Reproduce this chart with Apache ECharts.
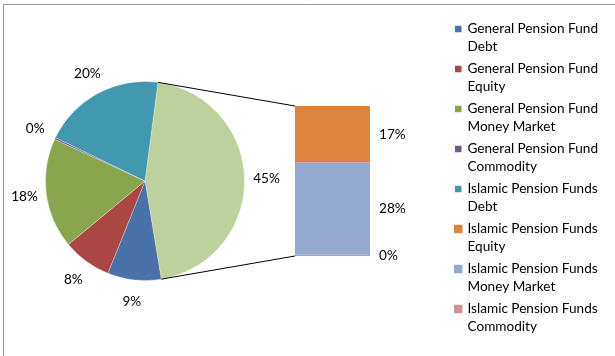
<!DOCTYPE html>
<html>
<head>
<meta charset="utf-8">
<script src="https://cdn.jsdelivr.net/npm/echarts@6/dist/echarts.min.js"></script>
<style>
html,body{margin:0;padding:0;background:#fff;}
#c{width:615px;height:356px;}
</style>
</head>
<body>
<div id="c"></div>
<script>
// ---- data (percent of total) ----
const pieNames = [
  'General Pension Fund Debt',
  'General Pension Fund Equity',
  'General Pension Fund Money Market',
  'General Pension Fund Commodity',
  'Islamic Pension Funds Debt'
];
const pieValues = [8.7, 7.9, 17.9, 0.3, 19.9];
const barNames = [
  'Islamic Pension Funds Equity',
  'Islamic Pension Funds Money Market',
  'Islamic Pension Funds Commodity'
];
const barValues = [17.0, 27.9, 0.4];
const otherName = 'Other';

const pieColors = ['#4A72A8', '#AA4643', '#89A54E', '#71588F', '#4198AF'];
const otherColor = '#BCD19B';
const barColors = ['#DB843D', '#93A9CF', '#D19392'];

const FONT = 'Lato';
const FS = 13.6;
const otherValue = barValues.reduce((a, b) => a + b, 0);
const total = otherValue + pieValues.reduce((a, b) => a + b, 0);

const CX = 145, CY = 181, R = 99.5;
const START = 7.5; // degrees clockwise from 12 o'clock
const LABEL_R = R + 22;

const pieData = [{ name: otherName, value: otherValue, itemStyle: { color: otherColor } }]
  .concat(pieNames.map((n, i) => ({ name: n, value: pieValues[i], itemStyle: { color: pieColors[i] } })));

// mid angles for labels
const midAngles = [];
let acc = START;
pieData.forEach(d => {
  const span = d.value / total * 360;
  midAngles.push(acc + span / 2);
  acc += span;
});

const chart = echarts.init(document.getElementById('c'), null, { renderer: 'canvas' });

// bar series: stacked bottom-to-top: Commodity, Money Market, Equity
const barOrder = [2, 1, 0];
const barSeries = barOrder.map(i => ({
  name: barNames[i],
  type: 'bar',
  stack: 'other',
  barWidth: '100%',
  data: [barValues[i]],
  itemStyle: { color: barColors[i] },
  label: {
    show: true, position: 'right', distance: 9,
    color: '#000', fontFamily: FONT, fontSize: FS,
    formatter: p => Math.round(p.value / total * 100) + '%'
  },
  emphasis: { disabled: true },
  silent: true
}));

const legendNames = pieNames.concat(barNames);

const option = {
  animation: false,
  textStyle: { fontFamily: FONT },
  grid: { left: 295, top: 106, width: 75, height: 150 },
  xAxis: { type: 'category', data: [otherName], show: false },
  yAxis: { type: 'value', min: 0, max: otherValue, show: false },
  legend: {
    orient: 'vertical',
    left: 453, top: 2,
    padding: 0,
    itemWidth: 8.5, itemHeight: 8.5,
    itemGap: -14,
    icon: 'rect',
    selectedMode: false,
    data: legendNames,
    formatter: n => {
      const w = n.split(' ');
      return '\n' + w.slice(0, 3).join(' ') + '\n' + w.slice(3).join(' ');
    },
    textStyle: { fontFamily: FONT, fontSize: FS, color: '#000', lineHeight: 18 }
  },
  graphic: [{
    type: 'rect', silent: true, z: -10,
    shape: { x: 3.5, y: 4.5, width: 700, height: 500 },
    style: { fill: 'none', stroke: '#959595', lineWidth: 1 }
  }],
  series: [{
    type: 'pie',
    center: [CX, CY],
    radius: R,
    startAngle: 90 - START,
    clockwise: true,
    avoidLabelOverlap: false,
    data: pieData,
    itemStyle: { borderColor: '#fff', borderWidth: 0.3 },
    label: {
      show: true, position: 'outside', color: '#000', fontFamily: FONT, fontSize: FS,
      formatter: p => Math.round(p.value / total * 100) + '%'
    },
    labelLine: { show: false },
    labelLayout: p => {
      const a = midAngles[p.dataIndex] * Math.PI / 180;
      return {
        x: CX + LABEL_R * Math.sin(a),
        y: CY - LABEL_R * Math.cos(a),
        align: 'center', verticalAlign: 'middle'
      };
    },
    emphasis: { disabled: true },
    silent: true
  }].concat(barSeries)
};

chart.setOption(option);

// connector lines from the "Other" slice edges to the bar corners
const a1 = START * Math.PI / 180;
const a2 = (START + otherValue / total * 360) * Math.PI / 180;
const pTop = [CX + R * Math.sin(a1), CY - R * Math.cos(a1)];
const pBot = [CX + R * Math.sin(a2), CY - R * Math.cos(a2)];
const gridRect = chart.getModel().getComponent('grid', 0).coordinateSystem.getRect();
const barTopY = chart.convertToPixel({ yAxisIndex: 0 }, otherValue);
const barBotY = chart.convertToPixel({ yAxisIndex: 0 }, 0);
const bx = gridRect.x;

chart.setOption({
  graphic: [
    option.graphic[0],
    { type: 'line', silent: true, z: 10, shape: { x1: pTop[0], y1: pTop[1], x2: bx, y2: barTopY }, style: { stroke: '#000', lineWidth: 1 } },
    { type: 'line', silent: true, z: 10, shape: { x1: pBot[0], y1: pBot[1], x2: bx, y2: barBotY }, style: { stroke: '#000', lineWidth: 1 } }
  ]
});
</script>
</body>
</html>
